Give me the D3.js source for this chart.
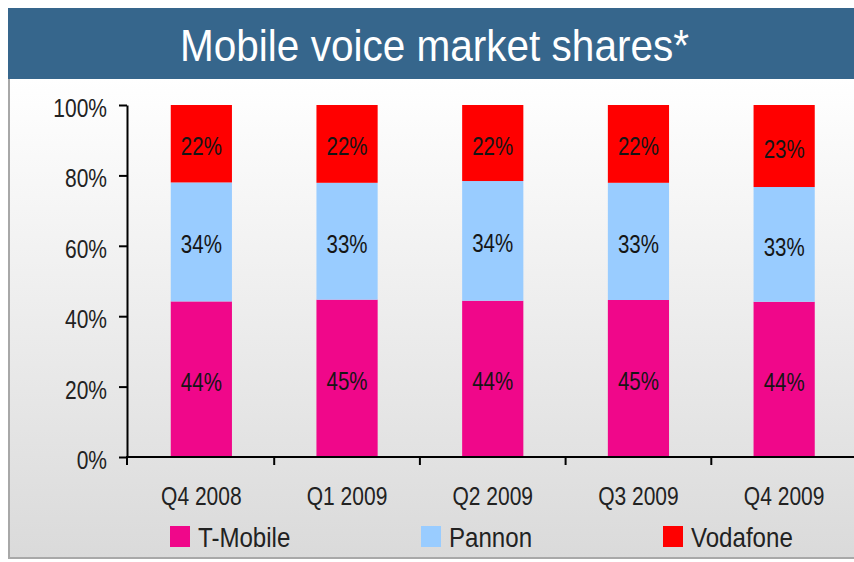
<!DOCTYPE html>
<html>
<head>
<meta charset="utf-8">
<script src="https://cdn.jsdelivr.net/npm/d3@7"></script>
<style>
  html, body { margin: 0; padding: 0; background: #ffffff; }
  svg { display: block; }
  text { font-family: "Liberation Sans Narrow", "Arial Narrow", "Liberation Sans", sans-serif; }
</style>
</head>
<body>
<script>
// ---- data ----
const title = "Mobile voice market shares*";
const categories = ["Q4 2008", "Q1 2009", "Q2 2009", "Q3 2009", "Q4 2009"];
const seriesNames = ["T-Mobile", "Pannon", "Vodafone"];
const tMobile  = [44.2, 44.7, 44.4, 44.6, 44.1];
const pannon   = [33.8, 33.2, 34.0, 33.3, 32.6];
const vodafone = [22.0, 22.1, 21.6, 22.1, 23.3];
const yTicks = [0, 20, 40, 60, 80, 100];
const colors = ["#F0078A", "#99CCFF", "#FF0000"];

// ---- setup ----
const W = 854, H = 562;
const svg = d3.select("body").append("svg").attr("width", W).attr("height", H);

// condense text horizontally (narrow typeface look)
function condense(sel, f) {
  sel.each(function () {
    const w = this.getComputedTextLength();
    d3.select(this).attr("textLength", w * f).attr("lengthAdjust", "spacingAndGlyphs");
  });
}

const defs = svg.append("defs");
const grad = defs.append("linearGradient").attr("id", "bg").attr("x1", 0).attr("y1", 0).attr("x2", 0).attr("y2", 1);
grad.append("stop").attr("offset", "0%").attr("stop-color", "#ffffff");
grad.append("stop").attr("offset", "100%").attr("stop-color", "#dadada");

// panel background + border
svg.append("rect").attr("x", 9).attr("y", 79).attr("width", W - 9).attr("height", 479).attr("fill", "url(#bg)");
svg.append("line").attr("x1", 9).attr("x2", 9).attr("y1", 79).attr("y2", 559).attr("stroke", "#a8a8a8").attr("stroke-width", 2);
svg.append("line").attr("x1", 8).attr("x2", W).attr("y1", 558).attr("y2", 558).attr("stroke", "#a8a8a8").attr("stroke-width", 2);

// title banner
svg.append("rect").attr("x", 8).attr("y", 8).attr("width", W - 8).attr("height", 71).attr("fill", "#36668C");
svg.append("text").attr("x", 434.5).attr("y", 61).attr("text-anchor", "middle")
  .attr("font-size", 44).attr("fill", "#ffffff")
  .attr("textLength", 509).attr("lengthAdjust", "spacingAndGlyphs")
  .text(title);

// scales
const x = d3.scaleBand().domain(categories).range([128.5, 857]).paddingInner(0.58).paddingOuter(0.29);
const y = d3.scaleLinear().domain([0, 100]).range([457, 105]);

// stacked data
const rows = categories.map((c, i) => ({ cat: c, "T-Mobile": tMobile[i], "Pannon": pannon[i], "Vodafone": vodafone[i] }));
const stack = d3.stack().keys(seriesNames)(rows);

const g = svg.append("g");
stack.forEach((layer, si) => {
  g.selectAll(null).data(layer).enter().append("rect")
    .attr("x", d => x(d.data.cat))
    .attr("width", x.bandwidth())
    .attr("y", d => y(d[1]))
    .attr("height", d => y(d[0]) - y(d[1]))
    .attr("fill", colors[si]);
  const t = g.selectAll(null).data(layer).enter().append("text")
    .attr("x", d => x(d.data.cat) + x.bandwidth() / 2)
    .attr("y", d => (y(d[0]) + y(d[1])) / 2 + 11.5)
    .attr("text-anchor", "middle")
    .attr("font-size", 25)
    .attr("fill", "#151515")
    .text(d => Math.round(d[1] - d[0]) + "%");
  condense(t, 0.82);
});

// y axis
const yAxis = svg.append("g").attr("transform", "translate(127,0)")
  .call(d3.axisLeft(y).tickValues(yTicks).tickFormat(d => d + "%").tickSize(8).tickSizeOuter(0).tickPadding(12));
yAxis.select(".domain").attr("stroke", "#000").attr("stroke-width", 2);
yAxis.selectAll(".tick line").attr("stroke", "#000").attr("stroke-width", 2);
const yt = yAxis.selectAll(".tick text").attr("font-size", 25).attr("fill", "#222").attr("dy", "0.46em")
  .style("font-family", "'Liberation Sans Narrow', 'Arial Narrow', 'Liberation Sans', sans-serif");
condense(yt, 0.84);

// x axis
const xAxis = svg.append("g").attr("transform", "translate(0,457)");
xAxis.append("line").attr("x1", 126).attr("x2", W).attr("y1", 0).attr("y2", 0).attr("stroke", "#000").attr("stroke-width", 2);
const boundaries = [127].concat(d3.range(1, categories.length + 1).map(i => x.range()[0] + i * x.step()));
xAxis.selectAll(null).data(boundaries).enter().append("line")
  .attr("x1", d => d).attr("x2", d => d).attr("y1", 0).attr("y2", 8)
  .attr("stroke", "#000").attr("stroke-width", 2);
const xt = xAxis.selectAll(null).data(categories).enter().append("text")
  .attr("x", d => x(d) + x.bandwidth() / 2)
  .attr("y", 48)
  .attr("text-anchor", "middle")
  .attr("font-size", 25).attr("fill", "#222")
  .text(d => d);
condense(xt, 0.84);

// legend
const legendX = [170, 421, 663];
const legend = svg.append("g");
seriesNames.forEach((name, i) => {
  legend.append("rect").attr("x", legendX[i]).attr("y", 526).attr("width", 20).attr("height", 21).attr("fill", colors[i]);
  const lt = legend.append("text").attr("x", legendX[i] + 28).attr("y", 547).attr("font-size", 28).attr("fill", "#222").text(name);
  condense(lt, 0.86);
});
</script>
</body>
</html>
